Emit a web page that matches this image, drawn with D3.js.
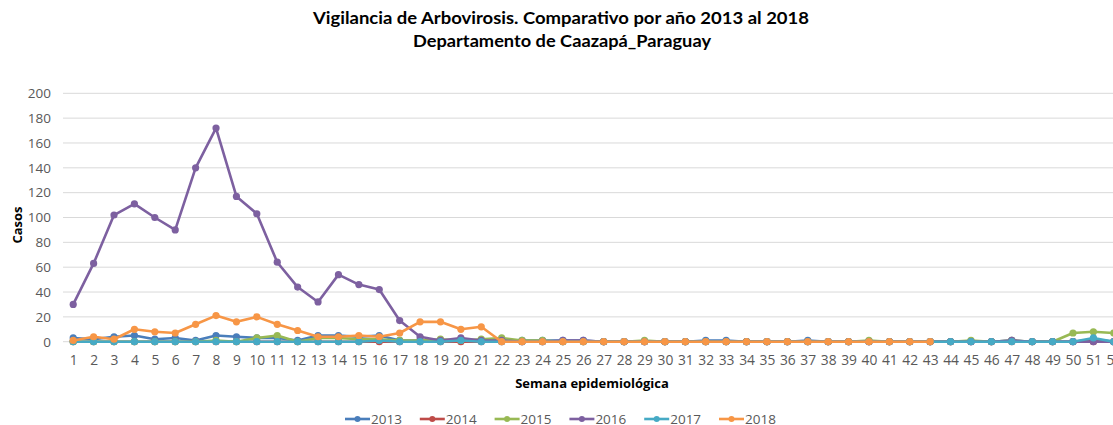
<!DOCTYPE html>
<html><head><meta charset="utf-8">
<script src="https://cdn.jsdelivr.net/npm/d3@7"></script>
<style>
body{margin:0;background:#fff;}
svg{display:block;}
</style></head>
<body>
<svg id="chart" width="1113" height="425"></svg>
<script>
const weeks = d3.range(1, 53);
const years = ["2013", "2014", "2015", "2016", "2017", "2018"];
const colors = ["#4a7ebb", "#be4b48", "#98b954", "#7d60a0", "#46aac5", "#f79646"];
const yTicks = [0, 20, 40, 60, 80, 100, 120, 140, 160, 180, 200];

const s2013 = [3,2,4,5,2,3,1,5,4,3,3,1,5,5,4,5,1,1,1,1,1,1,1,1,1,1,0,0,0,0,0,1,1,0,0,0,1,0,0,0,0,0,0,0,0,0,1,0,0,0,2,0];
const s2014 = [0,0,0,0,0,0,0,0,0,0,0,0,0,0,0,0,0,0,0,0,0,0,0,0,0,0,0,0,0,0,0,0,0,0,0,0,0,0,0,0,0,0,0,0,0,0,0,0,0,0,0,0];
const s2015 = [0,0,0,0,0,0,0,1,0,3,5,0,3,3,2,2,1,1,2,1,2,3,1,1,0,0,0,0,1,0,0,0,0,0,0,0,0,0,0,1,0,0,0,0,1,0,1,0,0,7,8,7];
const s2016 = [30,63,102,111,100,90,140,172,117,103,64,44,32,54,46,42,17,4,1,3,1,1,0,0,1,1,0,0,0,0,0,0,0,0,0,0,0,0,0,0,0,0,0,0,0,0,1,0,0,0,0,0];
const s2017 = [0,0,0,0,0,0,0,0,0,0,0,0,0,0,0,1,0,0,0,1,0,0,0,0,0,0,0,0,0,0,0,0,0,0,0,0,0,0,0,0,0,0,0,0,0,0,0,0,0,0,3,0];
const s2018 = [1,4,2,10,8,7,14,21,16,20,14,9,4,4,5,4,7,16,16,10,12,0,0,0,0,0,0,0,0,0,0,0,0,0,0,0,0,0,0,0,0,0,0,null,null,null,null,null,null,null,null,null];
const seriesValues = [s2013, s2014, s2015, s2016, s2017, s2018];

const svg = d3.select("#chart");
const plot = {left: 63, right: 1124, top: 93.3, bottom: 341.7};
const x = d3.scalePoint().domain(weeks).range([plot.left, plot.right]).padding(0.5);
const y = d3.scaleLinear().domain([0, 200]).range([plot.bottom, plot.top]);
const font = "'Open Sans', 'Noto Sans', sans-serif";

// title
const title = svg.append("g").attr("font-family", "Lato, 'Open Sans', sans-serif").attr("font-weight", "bold").attr("font-size", 17.5).attr("fill", "#000").attr("text-anchor", "middle");
title.append("text").attr("x", 561).attr("y", 24).attr("textLength", 496).attr("lengthAdjust", "spacingAndGlyphs")
  .text("Vigilancia de Arbovirosis. Comparativo por año 2013 al 2018");
title.append("text").attr("x", 562).attr("y", 47).attr("textLength", 298).attr("lengthAdjust", "spacingAndGlyphs")
  .text("Departamento  de Caazapá_Paraguay");

// gridlines
svg.append("g").selectAll("line").data(yTicks).join("line")
  .attr("x1", plot.left).attr("x2", plot.right)
  .attr("y1", d => y(d)).attr("y2", d => y(d))
  .attr("stroke", "#d9d9d9").attr("stroke-width", 1);

// y axis
const yAxis = d3.axisLeft(y).tickValues(yTicks).tickSize(0).tickPadding(0);
const yg = svg.append("g").attr("transform", "translate(51,0)").call(yAxis);
yg.select(".domain").remove();
yg.selectAll("text").attr("font-family", font).attr("font-size", 13.5).attr("fill", "#595959");

// x axis
const xAxis = d3.axisBottom(x).tickSize(0).tickPadding(0);
const xg = svg.append("g").attr("transform", "translate(0,355)").call(xAxis);
xg.select(".domain").remove();
xg.selectAll("text").attr("font-family", font).attr("font-size", 13.8).attr("fill", "#595959");

// axis titles
svg.append("text").attr("x", 592).attr("y", 388).attr("text-anchor", "middle")
  .attr("font-family", font).attr("font-weight", "bold").attr("font-size", 13).attr("fill", "#000")
  .text("Semana epidemiológica");
svg.append("text").attr("transform", "translate(22,225) rotate(-90)").attr("text-anchor", "middle")
  .attr("font-family", font).attr("font-weight", "bold").attr("font-size", 13).attr("fill", "#000")
  .text("Casos");

// series
const line = d3.line().defined(d => d.v !== null).x(d => x(d.w)).y(d => y(d.v));
years.forEach((yr, i) => {
  const data = weeks.map((w, j) => ({w: w, v: seriesValues[i][j]}));
  const g = svg.append("g");
  g.append("path").datum(data).attr("d", line).attr("fill", "none")
    .attr("stroke", colors[i]).attr("stroke-width", 2.6).attr("stroke-linejoin", "round");
  g.selectAll("circle").data(data.filter(d => d.v !== null)).join("circle")
    .attr("cx", d => x(d.w)).attr("cy", d => y(d.v)).attr("r", 3.6).attr("fill", colors[i]);
});

// legend
const legendX = d3.scalePoint().domain(years).range([345, 719]);
const lg = svg.append("g");
years.forEach((yr, i) => {
  const lx = legendX(yr);
  lg.append("line").attr("x1", lx).attr("x2", lx + 25).attr("y1", 419).attr("y2", 419)
    .attr("stroke", colors[i]).attr("stroke-width", 2.6);
  lg.append("circle").attr("cx", lx + 12.5).attr("cy", 419).attr("r", 3).attr("fill", colors[i]);
  lg.append("text").attr("x", lx + 26).attr("y", 424).attr("font-family", font).attr("font-size", 13.5)
    .attr("fill", "#595959").text(yr);
});
</script>
</body></html>
